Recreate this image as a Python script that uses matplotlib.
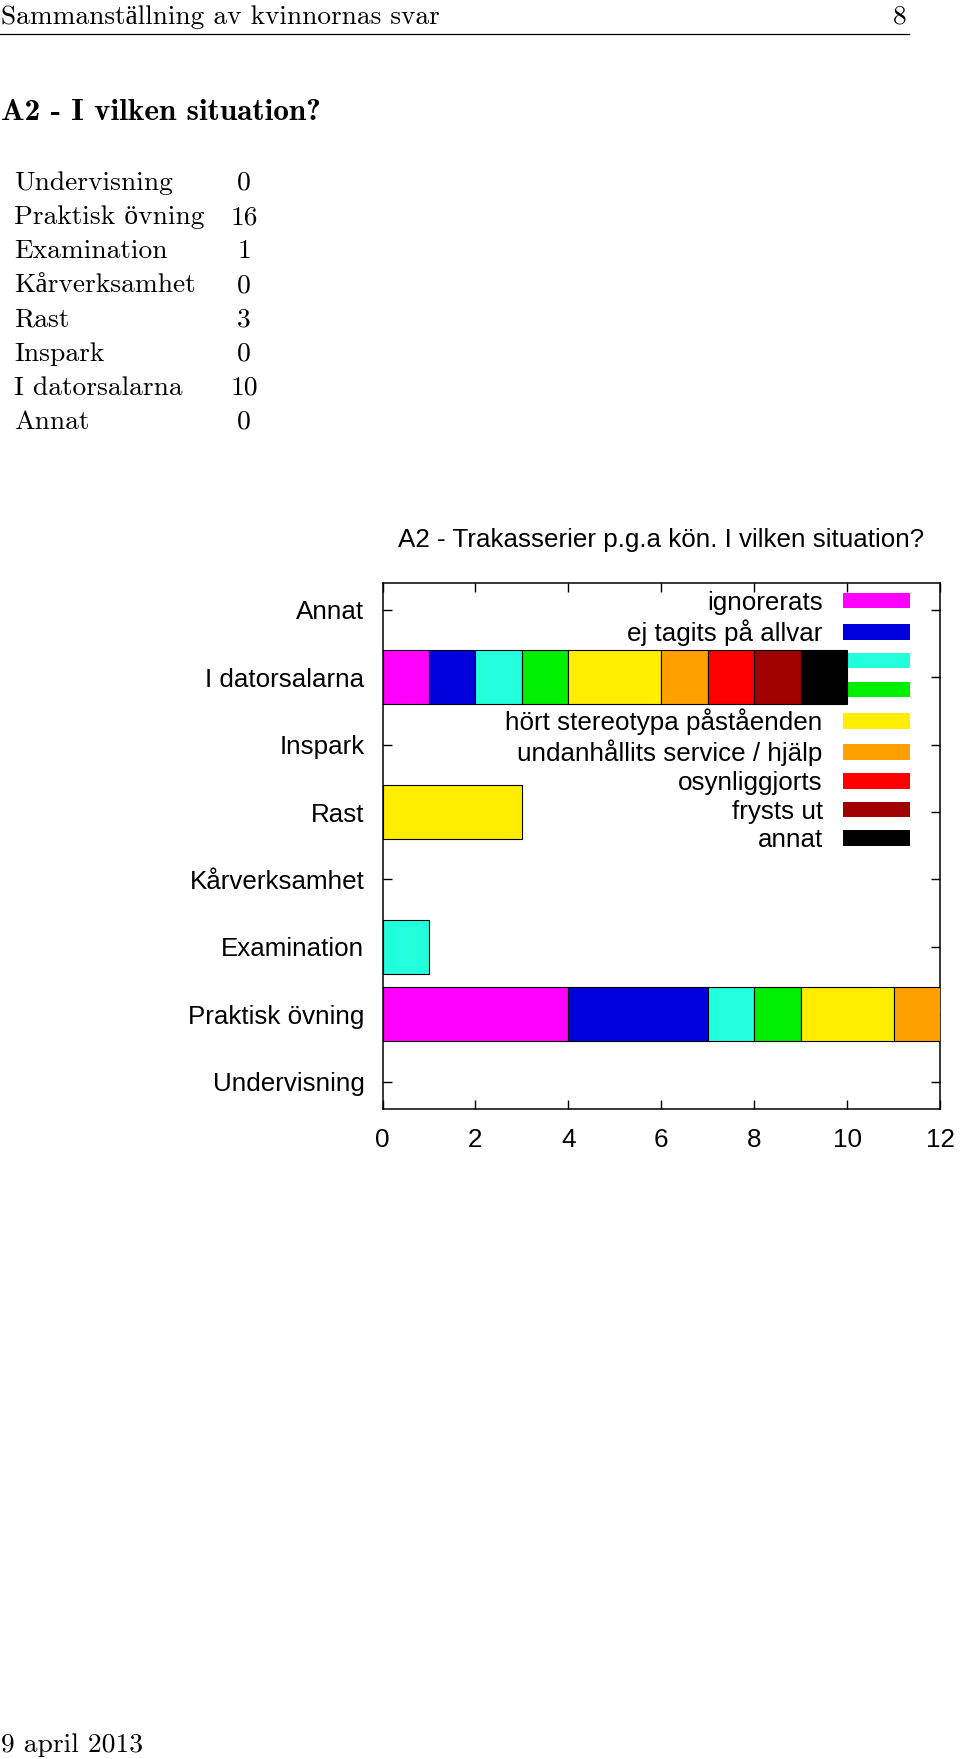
import matplotlib
matplotlib.use('Agg')
import matplotlib.pyplot as plt
from matplotlib.patches import Patch
from matplotlib.lines import Line2D
import numpy as np

# ---------------- data ----------------
categories = ['Undervisning', 'Praktisk övning', 'Examination', 'Kårverksamhet',
              'Rast', 'Inspark', 'I datorsalarna', 'Annat']
totals = [0, 16, 1, 0, 3, 0, 10, 0]

series_labels = ['ignorerats', 'ej tagits på allvar', '', '',
                 'hört stereotypa påståenden', 'undanhållits service / hjälp',
                 'osynliggjorts', 'frysts ut', 'annat']
s_ignorerats = [0, 4, 0, 0, 0, 0, 1, 0]
s_ej_tagits = [0, 3, 0, 0, 0, 0, 1, 0]
s_cyan = [0, 1, 1, 0, 0, 0, 1, 0]
s_green = [0, 1, 0, 0, 0, 0, 1, 0]
s_stereotypa = [0, 2, 0, 0, 3, 0, 2, 0]
s_undanhallits = [0, 2, 0, 0, 0, 0, 1, 0]
s_osynlig = [0, 1, 0, 0, 0, 0, 1, 0]
s_frysts = [0, 1, 0, 0, 0, 0, 1, 0]
s_annat = [0, 1, 0, 0, 0, 0, 1, 0]
series_values = [s_ignorerats, s_ej_tagits, s_cyan, s_green, s_stereotypa,
                 s_undanhallits, s_osynlig, s_frysts, s_annat]
series_colors = ['#ff00ff', '#0000dd', '#22ffdd', '#00ee00', '#ffee00',
                 '#ffa000', '#ff0000', '#a00000', '#000000']
x_ticks = [0, 2, 4, 6, 8, 10, 12]

header_text = 'Sammanställning av kvinnornas svar'
page_number = '8'
section_title = 'A2 - I vilken situation?'
chart_title = 'A2 - Trakasserier p.g.a kön. I vilken situation?'
footer_text = '9 april 2013'

# ---------------- layout ----------------
W, H = 960, 1759
plt.rcParams['font.family'] = ['Liberation Sans', 'DejaVu Sans']
fig = plt.figure(figsize=(W / 100, H / 100), dpi=100)
fig.patch.set_facecolor('white')


def fx(px):
    return px / W


def fy(px):
    return 1 - px / H


serif = ['cmr10', 'Liberation Serif']
serif_size = 19.8

# page header
fig.text(fx(1), fy(24), header_text, family=serif, fontsize=19.65, va='baseline', ha='left')
fig.text(fx(907), fy(24), page_number, family=serif, fontsize=19.65, va='baseline', ha='right')
fig.add_artist(Line2D([0, fx(909)], [fy(34), fy(34)], color='black', linewidth=0.9))

# section title
fig.text(fx(1), fy(120), section_title, family=['cmb10', 'Liberation Serif'],
         fontsize=22.5, va='baseline', ha='left')

# table
for i, (cat, tot) in enumerate(zip(categories, totals)):
    yb = 190 + i * 34.1
    fig.text(fx(14), fy(yb), cat, family=serif, fontsize=serif_size, va='baseline', ha='left')
    fig.text(fx(244), fy(yb), str(tot), family=serif, fontsize=serif_size, va='baseline', ha='center')

# footer
fig.text(fx(1), fy(1752), footer_text, family=serif, fontsize=serif_size, va='baseline', ha='left')

# chart
ax_l, ax_r, ax_t, ax_b = 382.5, 940, 583, 1108.5
ax = fig.add_axes([fx(ax_l), fy(ax_b), (ax_r - ax_l) / W, (ax_b - ax_t) / H])
ypos = np.arange(len(categories))
left = np.zeros(len(categories))
for vals, color, label in zip(series_values, series_colors, series_labels):
    v = np.array(vals, dtype=float)
    m = v > 0
    ax.barh(ypos[m], v[m], left=left[m], height=0.8, color=color,
            edgecolor='black', linewidth=0.8, zorder=3)
    left += v

fs = 18.7
ax.set_xlim(0, 12)
ax.set_ylim(-0.4, 7.4)
ax.set_xticks(x_ticks)
ax.set_xticklabels([str(t) for t in x_ticks])
ax.set_yticks(ypos)
ax.set_yticklabels(categories)
ax.tick_params(direction='in', length=6.5, width=1.0, top=True, right=True,
               labelsize=fs, colors='black')
ax.tick_params(axis='y', pad=13)
ax.tick_params(axis='x', pad=14)
for sp in ax.spines.values():
    sp.set_linewidth(1.1)
ax.set_title(chart_title, fontsize=fs, pad=26)

handles = [Patch(facecolor=c, edgecolor='none') for c in series_colors]
leg = ax.legend(handles, series_labels, loc='upper right',
                bbox_to_anchor=(0.9457, 0.985), frameon=False, markerfirst=False,
                handlelength=2.55, handleheight=0.54, handletextpad=0.8,
                labelspacing=0.18, borderpad=0, borderaxespad=0, fontsize=fs)
leg.set_zorder(1)

fig.savefig('out.png', dpi=100, facecolor='white')
